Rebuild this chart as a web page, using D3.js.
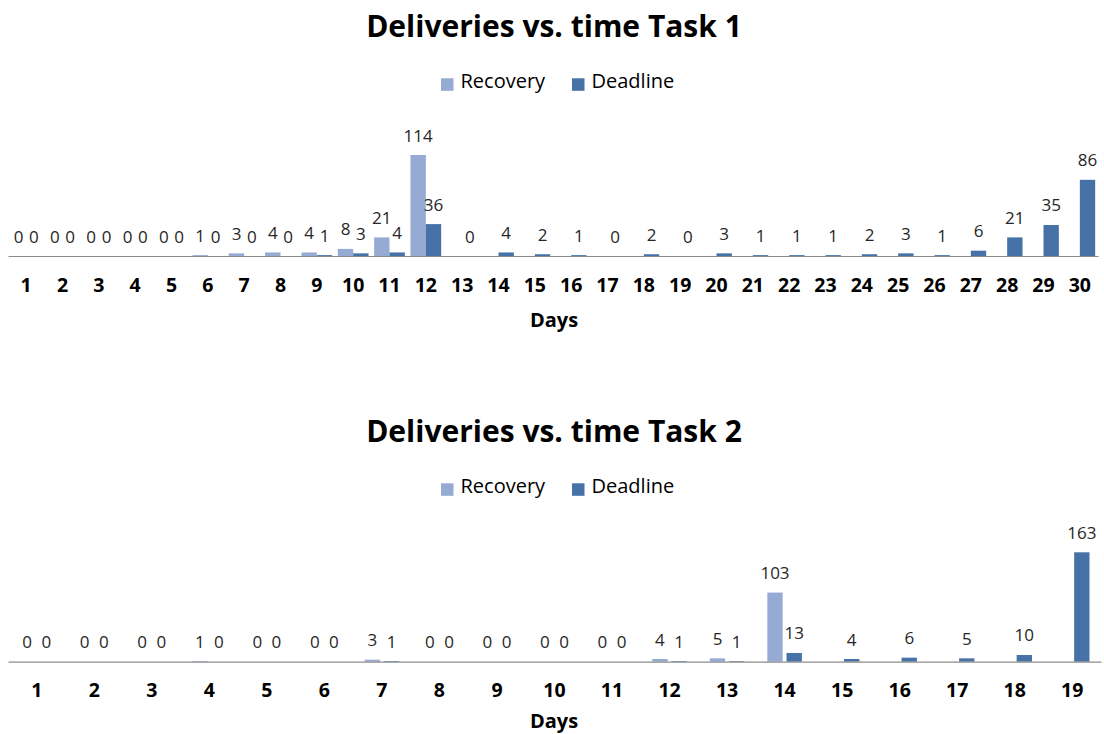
<!DOCTYPE html>
<html><head><meta charset="utf-8">
<script src="https://cdn.jsdelivr.net/npm/d3@7"></script>
<style>html,body{margin:0;padding:0;background:#fff}svg{display:block}</style>
</head><body><svg id="c" width="1104" height="734"></svg>
<script>
// ---- data ----
const task1Days = ["1","2","3","4","5","6","7","8","9","10","11","12","13","14","15","16","17","18","19","20","21","22","23","24","25","26","27","28","29","30"];
const task1Recovery = [0,0,0,0,0,1,3,4,4,8,21,114,null,null,null,null,null,null,null,null,null,null,null,null,null,null,null,null,null,null];
const task1Deadline = [0,0,0,0,0,0,0,0,1,3,4,36,0,4,2,1,0,2,0,3,1,1,1,2,3,1,6,21,35,86];

const task2Days = ["1","2","3","4","5","6","7","8","9","10","11","12","13","14","15","16","17","18","19"];
const task2Recovery = [0,0,0,1,0,0,3,0,0,0,0,4,5,103,null,null,null,null,null];
const task2Deadline = [0,0,0,0,0,0,1,0,0,0,0,1,1,13,4,6,5,10,163];

const seriesNames = ["Recovery","Deadline"];
const seriesColors = ["#95abd3","#4672a8"];
const titles = ["Deliveries vs. time Task 1","Deliveries vs. time Task 2"];
const axisTitle = "Days";

const FONT = "'Open Sans', 'DejaVu Sans', sans-serif";
const svg = d3.select("#c");

function drawChart(cfg) {
  const g = svg.append("g").attr("transform", `translate(0,${cfg.dy})`);

  // title
  g.append("text").attr("x", 554).attr("y", 36.7).attr("text-anchor","middle")
    .attr("font-family", FONT).attr("font-weight", 700).attr("font-size", 30)
    .attr("fill", "#000").text(cfg.title);

  // legend
  const legX = [441, 572];
  seriesNames.forEach((n, i) => {
    g.append("rect").attr("x", legX[i]).attr("y", 78.3).attr("width", 12.5).attr("height", 12.5)
      .attr("fill", seriesColors[i]);
    g.append("text").attr("x", legX[i] + 19.5).attr("y", 88.3)
      .attr("font-family", FONT).attr("font-size", 20).attr("fill", "#000").text(n);
  });

  const data = cfg.days.map((d, i) => ({day: d, vals: [cfg.rec[i], cfg.dead[i]]}));

  const x = d3.scaleBand().domain(cfg.days).range(cfg.xRange).padding(0);
  const gw = x.bandwidth() * cfg.groupFrac;
  const x1 = d3.scaleBand().domain(seriesNames).range([-gw/2, gw/2])
    .paddingInner(cfg.innerPad).paddingOuter(0);
  const y = d3.scaleLinear().domain([0, cfg.yMax]).range([cfg.baseline, cfg.baseline - cfg.plotH]);

  const groups = g.selectAll("g.day").data(data).join("g").attr("class","day")
    .attr("transform", d => `translate(${x(d.day) + x.bandwidth()/2},0)`);

  groups.selectAll("rect").data(d => d.vals.map((v, i) => ({v, s: seriesNames[i], i})).filter(e => e.v !== null))
    .join("rect")
    .attr("x", e => x1(e.s)).attr("width", x1.bandwidth())
    .attr("y", e => y(e.v)).attr("height", e => y(0) - y(e.v))
    .attr("fill", e => seriesColors[e.i]);

  groups.selectAll("text.lbl").data(d => d.vals.map((v, i) => ({v, s: seriesNames[i], i})).filter(e => e.v !== null))
    .join("text").attr("class","lbl")
    .attr("x", e => x1(e.s) + x1.bandwidth()/2).attr("y", e => y(e.v) - 13.5)
    .attr("text-anchor","middle").attr("font-family", FONT).attr("font-size", 17)
    .attr("fill", "#262626").text(e => e.v);

  // axis
  const ax = g.append("g").attr("transform", `translate(0,${cfg.baseline})`)
    .call(d3.axisBottom(x).tickSize(0).tickSizeOuter(0));
  ax.select(".domain").attr("stroke", "#8c8c8c").attr("stroke-width", 1.2);
  ax.selectAll(".tick text").attr("y", 35.7).attr("dy", null)
    .attr("font-family", FONT).attr("font-weight", 700).attr("font-size", 19.5).attr("fill", "#000");

  g.append("text").attr("x", 554).attr("y", cfg.daysY).attr("text-anchor","middle")
    .attr("font-family", FONT).attr("font-weight", 700).attr("font-size", 20)
    .attr("fill", "#000").text(axisTitle);
}

drawChart({dy: 0, title: titles[0], days: task1Days, rec: task1Recovery, dead: task1Deadline,
  xRange: [8, 1098], groupFrac: 0.845, innerPad: 0, yMax: 120, plotH: 106.3, baseline: 256, daysY: 326.5});
drawChart({dy: 405, title: titles[1], days: task2Days, rec: task2Recovery, dead: task2Deadline,
  xRange: [8 , 1101], groupFrac: 0.6, innerPad: 0.2, yMax: 180, plotH: 120.8, baseline: 256.7, daysY: 322.5});
</script></body></html>
